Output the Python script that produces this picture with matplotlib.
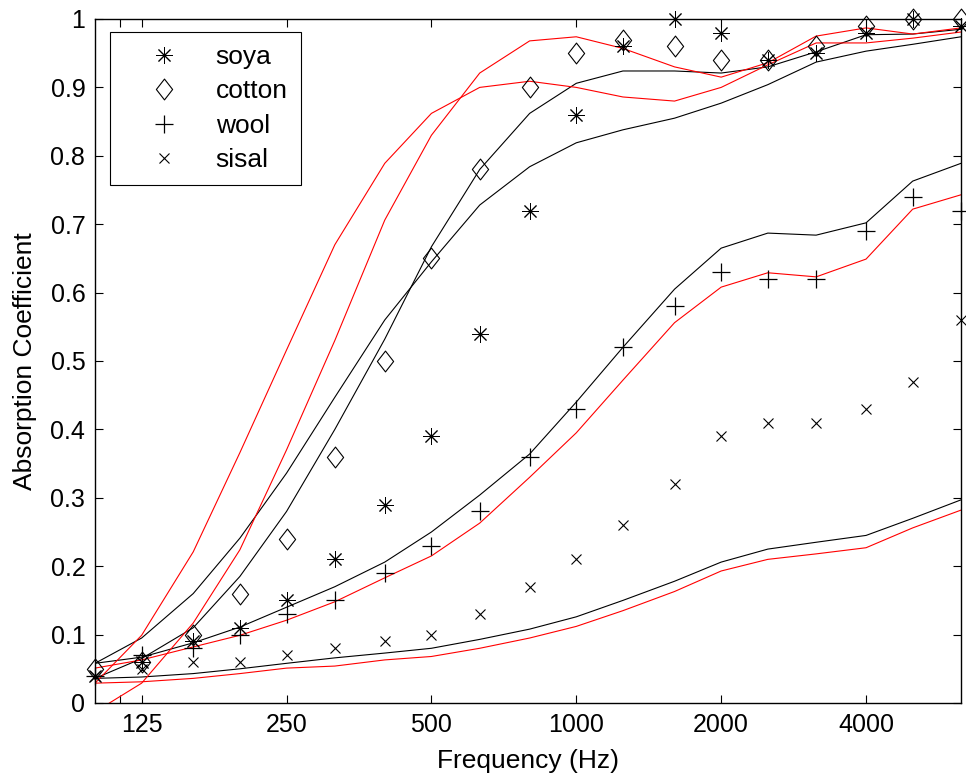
import matplotlib
matplotlib.use("Agg")
import matplotlib.pyplot as plt
from matplotlib.path import Path
from matplotlib.ticker import FixedLocator, NullFormatter

# third-octave band centre frequencies (Hz)
freqs = [100, 125, 160, 200, 250, 315, 400, 500, 630, 800, 1000,
         1250, 1600, 2000, 2500, 3150, 4000, 5000, 6300]

# measured absorption coefficients
soya = [0.04, 0.06, 0.09, 0.11, 0.15, 0.21, 0.29, 0.39, 0.54, 0.72, 0.86,
        0.96, 1.00, 0.98, 0.94, 0.95, 0.98, 1.00, 0.99]
cotton = [0.05, 0.06, 0.10, 0.16, 0.24, 0.36, 0.50, 0.65, 0.78, 0.90, 0.95,
          0.97, 0.96, 0.94, 0.94, 0.96, 0.99, 1.00, 1.00]
wool = [0.04, 0.07, 0.08, 0.10, 0.13, 0.15, 0.19, 0.23, 0.28, 0.36, 0.43,
        0.52, 0.58, 0.63, 0.62, 0.62, 0.69, 0.74, 0.72]
sisal = [0.04, 0.05, 0.06, 0.06, 0.07, 0.08, 0.09, 0.10, 0.13, 0.17, 0.21,
         0.26, 0.32, 0.39, 0.41, 0.41, 0.43, 0.47, 0.56]

# model curves (black)
soya_black = [0.058, 0.095, 0.160, 0.241, 0.336, 0.447, 0.560, 0.645, 0.728, 0.784, 0.819,
              0.838, 0.855, 0.877, 0.904, 0.937, 0.953, 0.963, 0.974]
cotton_black = [0.036, 0.065, 0.110, 0.185, 0.280, 0.400, 0.532, 0.667, 0.780, 0.862, 0.906,
                0.924, 0.924, 0.921, 0.930, 0.952, 0.977, 0.978, 0.985]
wool_black = [0.058, 0.067, 0.088, 0.111, 0.140, 0.170, 0.206, 0.250, 0.304, 0.364, 0.440,
              0.520, 0.605, 0.665, 0.687, 0.684, 0.702, 0.763, 0.789]
sisal_black = [0.036, 0.038, 0.043, 0.050, 0.058, 0.066, 0.073, 0.080, 0.093, 0.108, 0.126,
               0.150, 0.178, 0.206, 0.225, 0.235, 0.245, 0.270, 0.297]

# model curves (red)
soya_red = [0.029, 0.099, 0.221, 0.366, 0.516, 0.670, 0.789, 0.862, 0.900, 0.909, 0.900,
            0.886, 0.880, 0.900, 0.933, 0.965, 0.965, 0.972, 0.981]
cotton_red = [-0.013, 0.029, 0.117, 0.224, 0.370, 0.530, 0.706, 0.830, 0.921, 0.968, 0.974,
              0.957, 0.930, 0.915, 0.936, 0.975, 0.987, 0.978, 0.987]
wool_red = [0.051, 0.063, 0.082, 0.099, 0.121, 0.148, 0.183, 0.215, 0.263, 0.330, 0.395,
            0.472, 0.556, 0.608, 0.629, 0.623, 0.649, 0.722, 0.743]
sisal_red = [0.029, 0.031, 0.036, 0.043, 0.051, 0.054, 0.063, 0.068, 0.080, 0.095, 0.112,
             0.135, 0.163, 0.193, 0.210, 0.218, 0.227, 0.256, 0.282]

xtick_vals = [125, 250, 500, 1000, 2000, 4000]
xtick_labels = ["125", "250", "500", "1000", "2000", "4000"]
ytick_vals = [0, 0.1, 0.2, 0.3, 0.4, 0.5, 0.6, 0.7, 0.8, 0.9, 1]
ytick_labels = ["0", "0.1", "0.2", "0.3", "0.4", "0.5", "0.6", "0.7", "0.8", "0.9", "1"]

plt.rcParams["font.family"] = ["Liberation Sans", "DejaVu Sans"]

fig = plt.figure(figsize=(9.66, 7.8), dpi=100)
ax = fig.add_axes([95 / 966, 77 / 780, 866 / 966, 684 / 780])

for vals in [soya_black, cotton_black, wool_black, sisal_black]:
    ax.plot(freqs, vals, color="k", lw=0.8)
for vals in [soya_red, cotton_red, wool_red, sisal_red]:
    ax.plot(freqs, vals, color="#ff0000", lw=0.8)

diamond = Path([(0, 1), (0.78, 0), (0, -1), (-0.78, 0), (0, 1)], closed=True)
ax.plot(freqs, soya, ls="none", marker=(8, 2, 0), ms=12, mec="k", mew=0.7,
        label="soya", clip_on=False)
ax.plot(freqs, cotton, ls="none", marker=diamond, ms=15, mfc="none", mec="k", mew=0.8,
        label="cotton", clip_on=False)
ax.plot(freqs, wool, ls="none", marker="+", ms=13, mec="k", mew=0.9,
        label="wool", clip_on=False)
ax.plot(freqs, sisal, ls="none", marker="x", ms=7, mec="k", mew=0.8,
        label="sisal", clip_on=False)

ax.set_xscale("log")
ax.set_xlim(100, 6300)
ax.set_ylim(0, 1)
ax.set_xticks(xtick_vals)
ax.set_xticklabels(xtick_labels)
ax.xaxis.set_minor_locator(FixedLocator([112.5]))
ax.xaxis.set_minor_formatter(NullFormatter())
ax.set_yticks(ytick_vals)
ax.set_yticklabels(ytick_labels)
ax.tick_params(which="both", direction="in", top=True, right=True, length=6,
               width=0.8, labelsize=18, pad=7)
for sp in ax.spines.values():
    sp.set_linewidth(1.0)

ax.set_xlabel("Frequency (Hz)", fontsize=19, labelpad=9)
ax.set_ylabel("Absorption Coefficient", fontsize=19, labelpad=10)

leg = ax.legend(loc="upper left", bbox_to_anchor=(15 / 866, 1 - 13 / 684),
                borderaxespad=0, fontsize=19, frameon=True, fancybox=False,
                framealpha=1, edgecolor="k", handlelength=3.1,
                handletextpad=0.4, labelspacing=0.39, borderpad=0.5)
leg.get_frame().set_linewidth(0.8)

fig.savefig("out.png", dpi=100)
